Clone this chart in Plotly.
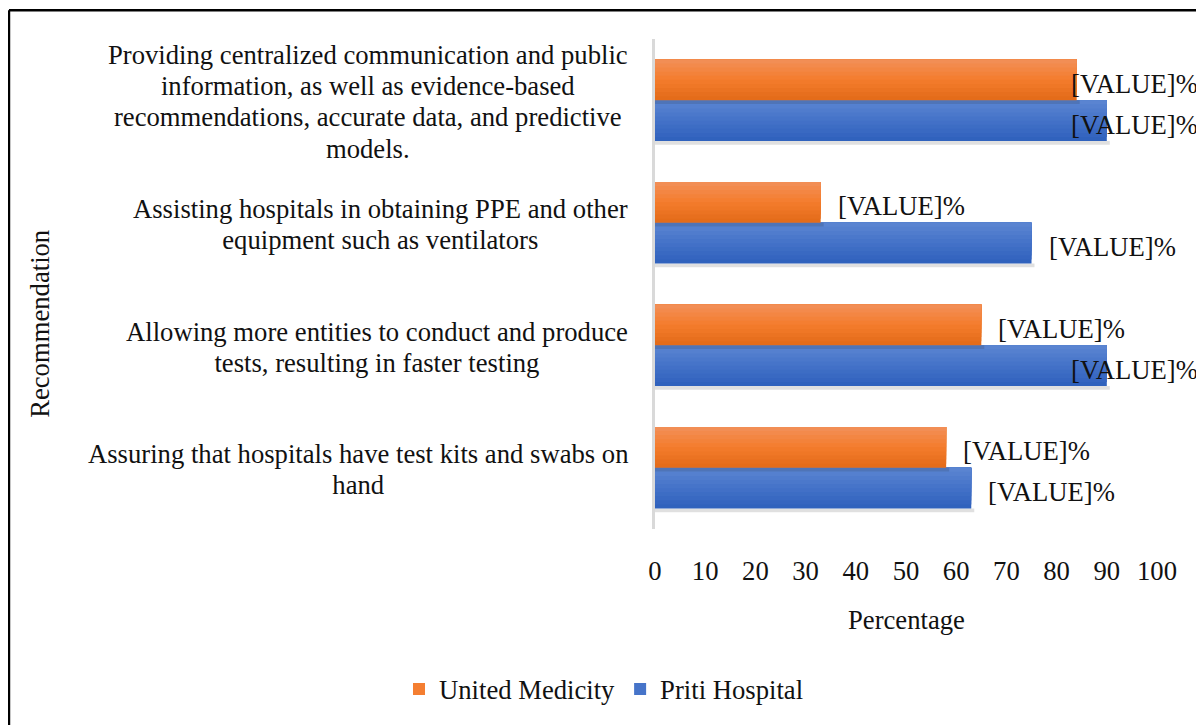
import plotly.graph_objects as go

# ---- data ----
categories = [
    "Providing centralized communication and public<br>information, as well as evidence-based<br>recommendations, accurate data, and predictive<br>models.",
    "Assisting hospitals in obtaining PPE and other<br>equipment such as ventilators",
    "Allowing more entities to conduct and produce<br>tests, resulting in faster testing",
    "Assuring that hospitals have test kits and swabs on<br>hand",
]
united_medicity = [84, 33, 65, 58]
priti_hospital = [90, 75, 90, 63]
series_names = ["United Medicity", "Priti Hospital"]
value_label = "[VALUE]%"
x_ticks = [0, 10, 20, 30, 40, 50, 60, 70, 80, 90, 100]

# ---- style ----
FONT = "Liberation Serif, Times New Roman, serif"
FS = 26.67
TXT = "#111111"
ORANGE_STOPS = [(242, 144, 90), (244, 124, 44), (226, 106, 24)]
BLUE_STOPS = [(92, 134, 210), (68, 114, 200), (46, 96, 188)]
N_STRIPES = 10
BAR_W = 1 / 3  # bar thickness in category units (bargap 1/3, 2 series)


def interp(stops, t):
    # t = 0 top, 1 bottom
    if t <= 0.5:
        a, b, u = stops[0], stops[1], t / 0.5
    else:
        a, b, u = stops[1], stops[2], (t - 0.5) / 0.5
    return "rgb(%d,%d,%d)" % tuple(round(a[i] + (b[i] - a[i]) * u) for i in range(3))


fig = go.Figure()


def add_series(values, name, stops, base_offset, rank):
    # soft shadow under bar
    fig.add_trace(go.Bar(y=categories, x=[v + 0.6 for v in values], orientation="h",
                         width=0.03, offset=base_offset - 0.03,
                         marker=dict(color="rgba(0,0,0,0.12)", line=dict(width=0)),
                         showlegend=False, hoverinfo="skip"))
    sw = BAR_W / N_STRIPES
    for k in range(N_STRIPES):
        # layer k covers from stripe k up to the top of the bar; later layers overlay
        t = 1 - (k + 0.5) / N_STRIPES
        fig.add_trace(go.Bar(y=categories, x=values, orientation="h",
                             width=BAR_W - k * sw, offset=base_offset + k * sw,
                             marker=dict(color=interp(stops, t), line=dict(width=0)),
                             name=name, legendgroup=name, legendrank=rank,
                             showlegend=(k == N_STRIPES // 2), hoverinfo="x+name"))


add_series(priti_hospital, series_names[1], BLUE_STOPS, -BAR_W, 2)
add_series(united_medicity, series_names[0], ORANGE_STOPS, 0.0, 1)

annotations = []
# category labels (centered multi-line block, right edge left of the axis)
for c in categories:
    txt = "<br>".join('<span style="font-size:%.2fpx">%s</span>' % (FS, line) for line in c.split("<br>"))
    annotations.append(dict(x=-0.0498, xref="paper", y=c, yref="y", yshift=-2, text=txt,
                            xanchor="right", yanchor="middle", align="center",
                            showarrow=False, font=dict(family=FONT, size=24, color=TXT)))
# data labels
for c, u, p in zip(categories, united_medicity, priti_hospital):
    for v, ys in ((u, 16.5), (p, -24.5)):
        annotations.append(dict(x=min(v + 3, 82.5), xref="x", y=c, yref="y", yshift=ys,
                                text=value_label, xanchor="left", yanchor="middle",
                                showarrow=False, font=dict(family=FONT, size=FS, color=TXT)))
# axis titles
annotations.append(dict(x=-1.2251, xref="paper", y=0.4187, yref="paper", text="Recommendation",
                        textangle=-90, showarrow=False, xanchor="center", yanchor="middle",
                        font=dict(family=FONT, size=FS, color=TXT)))
annotations.append(dict(x=0.5, xref="paper", y=-0.185, yref="paper", text="Percentage",
                        showarrow=False, xanchor="center", yanchor="middle",
                        font=dict(family=FONT, size=FS, color=TXT)))

shapes = [
    dict(type="line", xref="paper", yref="paper", x0=-1.2869, x1=1.2, y0=1.0589, y1=1.0589,
         line=dict(color="black", width=2.5), layer="above"),
    dict(type="line", xref="paper", yref="paper", x0=-1.2869, x1=-1.2869, y0=1.0589, y1=-0.5,
         line=dict(color="black", width=2.5), layer="above"),
]

fig.update_layout(
    width=1196, height=717,
    margin=dict(l=647, r=47, t=31, b=194),
    paper_bgcolor="white", plot_bgcolor="white",
    barmode="overlay",
    font=dict(family=FONT, size=FS, color=TXT),
    xaxis=dict(range=[0, 100], tickvals=x_ticks, showgrid=False, zeroline=False,
               showline=False, ticks="", tickfont=dict(family=FONT, size=FS, color=TXT),
               ticklabelstandoff=23, fixedrange=True),
    yaxis=dict(categoryorder="array", categoryarray=categories[::-1], range=[-0.5, 3.5],
               showticklabels=False, showgrid=False, zeroline=False, showline=True,
               linecolor="#d9d9d9", linewidth=2.5, ticks="", fixedrange=True),
    legend=dict(orientation="h", x=-0.1016, xanchor="center", y=-0.327, yanchor="middle",
                font=dict(family=FONT, size=FS, color=TXT),
                itemwidth=30),
    annotations=annotations,
    shapes=shapes,
    showlegend=True,
)

fig.write_html("out.html")
